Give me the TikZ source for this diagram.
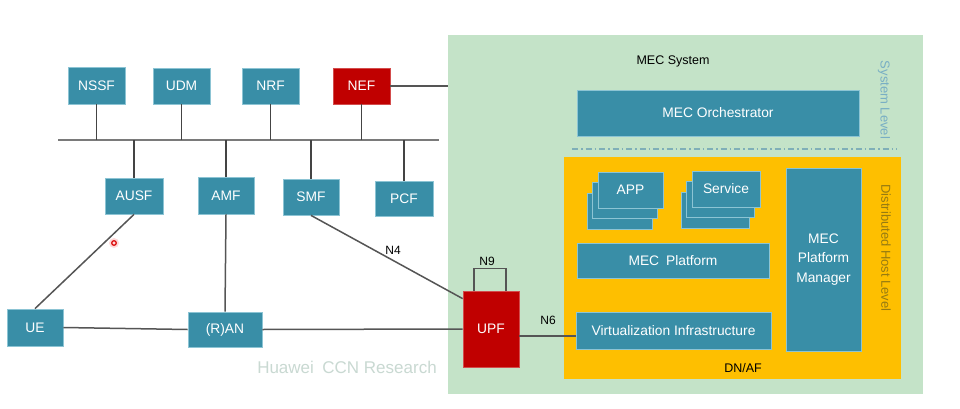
\documentclass[tikz,border=0pt]{standalone}
\usepackage{fontspec}
\setmainfont{Liberation Sans}
\definecolor{teal5g}{HTML}{398EA7}
\definecolor{tealedge}{HTML}{8CC4D4}
\definecolor{red5g}{HTML}{C00000}
\definecolor{mecgreen}{HTML}{C4E3C8}
\definecolor{mecorange}{HTML}{FEBF00}
\definecolor{linegrey}{HTML}{555555}
\definecolor{busgrey}{HTML}{7A7A7A}
\definecolor{levelblue}{HTML}{78AEC4}
\definecolor{levelyellow}{HTML}{967B12}
\definecolor{dashcol}{HTML}{7FAFB8}
\definecolor{wmark}{HTML}{C9D9D2}
\tikzset{
  box/.style={rectangle, fill=teal5g, draw=tealedge, line width=0.8pt, text=white, inner sep=0pt,
    font=\fontsize{13.8}{15}\selectfont},
  redbox/.style={box, fill=red5g, draw=red5g!70!white},
  conn/.style={draw=linegrey, line width=1.5pt},
  lbl/.style={font=\fontsize{12}{13}\selectfont, text=black, inner sep=0pt},
  levellbl/.style={font=\fontsize{13}{15}\selectfont, inner sep=0pt, rotate=-90},
}
\begin{document}
\begin{tikzpicture}[x=1pt,y=-1pt]
\useasboundingbox (0,0) rectangle (960,409);
\fill[white] (0,0) rectangle (960,409);

% MEC system area
\node[rectangle, fill=mecgreen, draw=none, minimum width=475, minimum height=359, inner sep=0pt] (mec) at (685.5,214.5) {};
\node[font=\fontsize{12.5}{14}\selectfont, inner sep=0pt] (mectitle) at (673,61) {MEC System};
\node[levellbl, text=levelblue] (syslevel) at (884,100) {System Level};
\node[box, minimum width=282, minimum height=46] (orch) at (718,113) {MEC Orchestrator};
\coordinate (dashL) at (572,149);
\coordinate (dashR) at (897,149);
\draw[draw=dashcol, line width=1.3pt, dash pattern=on 6pt off 3pt on 1.5pt off 3pt] (dashL) -- (dashR);

\node[rectangle, fill=mecorange, draw=none, minimum width=337, minimum height=222, inner sep=0pt] (host) at (732.5,268) {};
\node[levellbl, text=levelyellow] (hostlevel) at (886,248) {Distributed Host Level};

% APP stack
\node[box, minimum width=65, minimum height=36] (app3) at (619.5,211) {};
\node[box, minimum width=65, minimum height=36] (app2) at (625,200.5) {};
\node[box, minimum width=65, minimum height=36] (app) at (630.5,190) {APP};
% Service stack
\node[box, minimum width=68, minimum height=36] (svc3) at (715,210) {};
\node[box, minimum width=68, minimum height=36] (svc2) at (720.5,199.5) {};
\node[box, minimum width=68, minimum height=36] (svc) at (726,189) {Service};

\node[box, minimum width=192, minimum height=35] (platform) at (673,260.5) {MEC\enspace Platform};
\node[box, minimum width=195, minimum height=37] (virt) at (673.5,330.5) {Virtualization Infrastructure};
\node[box, minimum width=75, minimum height=183, align=center,
      font=\fontsize{13.8}{19.5}\selectfont] (mpm) at (823.5,259.5) {MEC\\Platform\\Manager};
\node[font=\fontsize{12.5}{14}\selectfont, inner sep=0pt] (dnaf) at (743,368) {DN/AF};

% watermark
\node[font=\fontsize{17}{19}\selectfont, text=wmark, inner sep=0pt] (wm) at (347,367) {Huawei\enspace CCN Research};

% 5G core network functions
\node[box, minimum width=57, minimum height=37] (nssf) at (96.5,85.5) {NSSF};
\node[box, minimum width=57, minimum height=36] (udm) at (181.5,86) {UDM};
\node[box, minimum width=57, minimum height=36] (nrf) at (270.5,86) {NRF};
\node[redbox, minimum width=57, minimum height=36] (nef) at (361.5,86) {NEF};
\node[box, minimum width=58, minimum height=36] (ausf) at (134,196) {AUSF};
\node[box, minimum width=56, minimum height=37] (amf) at (226,195.5) {AMF};
\node[box, minimum width=56, minimum height=36] (smf) at (311,197) {SMF};
\node[box, minimum width=58, minimum height=35] (pcf) at (404,198.5) {PCF};
\node[box, minimum width=56, minimum height=37] (ue) at (35,327.5) {UE};
\node[box, minimum width=74, minimum height=35] (ran) at (225,329.5) {(R)AN};
\node[redbox, minimum width=56, minimum height=76] (upf) at (491,329) {UPF};

% service bus
\coordinate (busL) at (58,140);
\coordinate (busR) at (439,140);
\draw[draw=busgrey, line width=2.5pt] (busL) -- (busR);
\foreach \n in {nssf,udm,nrf,nef}{
  \draw[conn, draw=linegrey!80!black] (\n.south) -- (\n.south |- busL);
}
\foreach \n in {ausf,amf,smf,pcf}{
  \draw[conn, draw=linegrey!80!black] (\n.north) -- (\n.north |- busL);
}
\draw[conn] (nef.east) -- (nef.east -| mec.west);

% access / user plane connections
\draw[conn] (ue.north) -- (ausf.south);
\draw[conn] (amf.south) -- (ran.north);
\draw[conn] (ue.east) -- (ran.west);
\draw[conn] (ran.east) -- (upf.west);
\draw[conn] (smf.south) -- ([yshift=-8pt]upf.north west);
\node[lbl] (n4) at (393,250) {N4};
\draw[conn] ([xshift=-17pt]upf.north) -- ++(0,-22) -| ([xshift=15pt]upf.north);
\node[lbl] (n9) at (487,261) {N9};
\draw[conn] ([yshift=-7pt]upf.east) -- ([yshift=-7pt]upf.east -| virt.west);
\node[lbl] (n6) at (548,320) {N6};

% pointer dot
\fill[red!25, opacity=0.6] (114,243) circle (5);
\draw[red!85!black, line width=1.2pt] (114,243) circle (2.3);
\end{tikzpicture}
\end{document}
